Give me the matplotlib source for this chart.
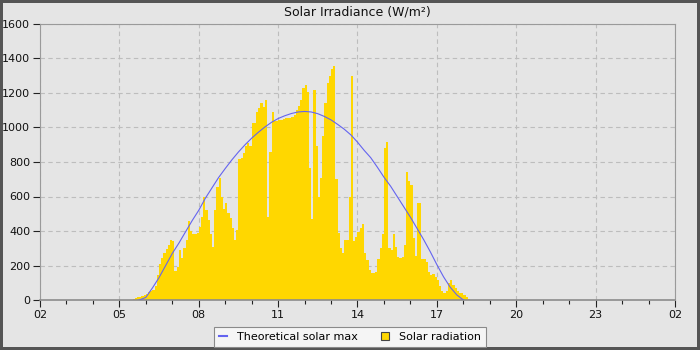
import matplotlib.pyplot as plt
import numpy as np
from matplotlib.lines import Line2D
from matplotlib.patches import Patch

# theoretical clear-sky maximum, read every 15 minutes (decimal hours)
max_hours = [5.75, 6.0, 6.25, 6.5, 6.75, 7.0, 7.25, 7.5, 7.75, 8.0, 8.25, 8.5, 8.75,
             9.0, 9.25, 9.5, 9.75, 10.0, 10.25, 10.5, 10.75, 11.0, 11.25, 11.5, 11.75,
             12.0, 12.25, 12.5, 12.75, 13.0, 13.25, 13.5, 13.75, 14.0, 14.25, 14.5,
             14.75, 15.0, 15.25, 15.5, 15.75, 16.0, 16.25, 16.5, 16.75, 17.0, 17.25,
             17.5, 17.75, 18.0]
max_values = [0, 15, 70, 130, 200, 270, 330, 395, 460, 520, 590, 650, 710,
              762, 812, 858, 900, 938, 972, 1003, 1030, 1052, 1068, 1081, 1090,
              1093, 1090, 1080, 1064, 1044, 1018, 990, 957, 915, 868, 825,
              770, 712, 660, 600, 540, 480, 415, 350, 280, 205, 135,
              75, 30, 0]

# measured radiation, 5 minute samples starting at 05:30
rad_start = 5.5
rad_step = 5 / 60
rad_values = [
    5, 10, 15, 20, 25, 30, 35, 45, 50, 60, 80, 145,                 # 05:30
    210, 245, 270, 295, 320, 345, 340, 170, 190, 290, 245, 300,     # 06:30
    350, 460, 400, 385, 385, 390, 425, 480, 600, 520, 465, 380,     # 07:30
    310, 520, 655, 705, 600, 525, 560, 505, 475, 420, 350, 405,     # 08:30
    815, 825, 850, 890, 910, 890, 1028, 1028, 1090, 1115, 1140, 1120,  # 09:30
    1160, 480, 860, 1090, 1035, 1040, 1043, 1045, 1048, 1053, 1053, 1055,  # 10:30
    1060, 1072, 1100, 1125, 1160, 1230, 1245, 1205, 765, 470, 1215, 890,   # 11:30
    600, 705, 950, 1140, 1256, 1300, 1340, 1355, 700, 390, 300, 275,       # 12:30
    345, 350, 600, 1300, 340, 365, 395, 420, 440, 270, 230, 175,           # 13:30
    155, 155, 160, 240, 300, 385, 880, 918, 300, 290, 380, 310,            # 14:30
    250, 242, 250, 320, 740, 690, 665, 360, 255, 560, 565, 240,            # 15:30
    240, 220, 160, 145, 150, 135, 115, 80, 55, 40, 50, 100,                # 16:30
    115, 85, 70, 55, 43, 38, 30, 15, 6,                                    # 17:30
]

tick_hours = [2, 5, 8, 11, 14, 17, 20, 23, 26]
tick_labels = ["02", "05", "08", "11", "14", "17", "20", "23", "02"]

bg = "#e5e5e5"
fig = plt.figure(figsize=(7, 3.5), dpi=100, facecolor=bg,
                 edgecolor="#555555", linewidth=3)
ax = fig.add_axes([40 / 700, 50 / 350, 635 / 700, 276 / 350])
ax.set_facecolor(bg)

edges = rad_start + rad_step * np.arange(len(rad_values) + 1)
ax.stairs(rad_values, edges, fill=True, color="#ffd700", linewidth=0, zorder=2)
ax.plot(max_hours, max_values, color="#6464f0", linewidth=0.8, zorder=3)

ax.set_xlim(2, 26)
ax.set_ylim(0, 1600)
ax.set_xticks(tick_hours)
ax.set_xticklabels(tick_labels)
ax.set_xticks(np.arange(2, 27, 1), minor=True)
ax.set_yticks(np.arange(0, 1601, 200))
ax.tick_params(axis="both", which="major", labelsize=8, length=5, width=0.8,
               color="#222222", labelcolor="#111111", pad=2)
ax.tick_params(axis="x", which="minor", length=3, width=0.8, color="#222222")
ax.grid(True, which="major", linestyle=(0, (4, 3)), color="#bdbdbd", linewidth=0.8, zorder=1)
ax.set_axisbelow(True)
for side in ["top", "right", "left"]:
    ax.spines[side].set_color("#9a9a9a")
    ax.spines[side].set_linewidth(0.8)
ax.spines["bottom"].set_color("#8c8c8c")
ax.spines["bottom"].set_linewidth(1.2)

ax.set_title("Solar Irradiance (W/m²)", fontsize=9, color="#111111", pad=6)

handles = [
    Line2D([0], [0], color="#6464f0", linewidth=1.5),
    Patch(facecolor="#ffd700", edgecolor="#444444", linewidth=0.8),
]
leg = fig.legend(handles, ["Theoretical solar max", "Solar radiation"],
                 loc="lower center", bbox_to_anchor=(0.5, 0.0), ncol=2,
                 fontsize=8, frameon=True, fancybox=False,
                 handlelength=0.8, handleheight=0.8, handletextpad=0.9,
                 columnspacing=2.0, borderpad=0.45, borderaxespad=0.3)
leg.get_frame().set_facecolor("#f5f5f5")
leg.get_frame().set_edgecolor("#8a8a8a")
leg.get_frame().set_linewidth(0.8)
leg.get_frame().set_alpha(1)

fig.savefig("out.png", dpi=100, facecolor=fig.get_facecolor(),
            edgecolor=fig.get_edgecolor())
